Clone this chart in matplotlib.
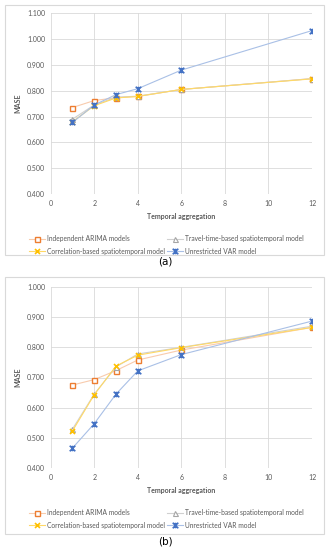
import matplotlib
matplotlib.use("Agg")
import matplotlib.pyplot as plt
from matplotlib.path import Path
from matplotlib.patches import Rectangle
from matplotlib.lines import Line2D

plt.rcParams['font.family'] = ['Lato', 'DejaVu Sans']

x_vals = [1, 2, 3, 4, 6, 12]
series_names = ["Independent ARIMA models", "Travel-time-based spatiotemporal model",
                "Correlation-based spatiotemporal model", "Unrestricted VAR model"]

# Panel (a)
a_arima = [0.735, 0.762, 0.773, 0.778, 0.805, 0.847]
a_travel = [0.690, 0.745, 0.775, 0.779, 0.805, 0.847]
a_corr = [0.680, 0.742, 0.772, 0.778, 0.805, 0.846]
a_var = [0.677, 0.745, 0.785, 0.808, 0.880, 1.033]

# Panel (b)
b_arima = [0.675, 0.693, 0.723, 0.758, 0.791, 0.866]
b_travel = [0.529, 0.645, 0.735, 0.778, 0.800, 0.870]
b_corr = [0.523, 0.643, 0.738, 0.774, 0.799, 0.866]
b_var = [0.466, 0.547, 0.645, 0.722, 0.776, 0.887]

a_yticks = [0.4, 0.5, 0.6, 0.7, 0.8, 0.9, 1.0, 1.1]
b_yticks = [0.4, 0.5, 0.6, 0.7, 0.8, 0.9, 1.0]
xticks = [0, 2, 4, 6, 8, 10, 12]

star = Path([(-1, -1), (1, 1), (-1, 1), (1, -1), (0, -1), (0, 1)],
            [Path.MOVETO, Path.LINETO, Path.MOVETO, Path.LINETO, Path.MOVETO, Path.LINETO])

styles = [
    dict(color='#F8CBAD', marker='s', mfc='white', mec='#ED7D31', ms=3.6, mew=1.0),
    dict(color='#D0D0D0', marker='^', mfc='white', mec='#A5A5A5', ms=3.6, mew=0.8),
    dict(color='#FFD966', marker='x', mfc='none', mec='#FFC000', ms=3.6, mew=1.2),
    dict(color='#A9C0E6', marker=star, mfc='none', mec='#4472C4', ms=4, mew=1.2),
]

W, H = 331, 550
fig = plt.figure(figsize=(W / 100, H / 100), dpi=100)

def fx(px):
    return px / W

def fy(py):
    return 1 - py / H

def panel(top_px, bot_px, box_top, box_bot, data, yticks, ylim, label, label_y, leg_y):
    fig.patches.append(Rectangle((fx(5), fy(box_bot)), fx(319), (box_bot - box_top) / H,
                                 transform=fig.transFigure, fill=False,
                                 edgecolor='#D9D9D9', lw=0.8))
    ax = fig.add_axes([fx(50.7), fy(bot_px), fx(312 - 50.7), (bot_px - top_px) / H])
    for vals, st in zip(data, styles):
        ax.plot(x_vals, vals, lw=0.8, **st)
    ax.set_xlim(0, 12)
    ax.set_ylim(*ylim)
    ax.set_xticks(xticks)
    ax.set_yticks(yticks)
    ax.set_yticklabels([f"{v:.3f}" for v in yticks])
    ax.grid(True, color='#D9D9D9', lw=0.6)
    ax.set_axisbelow(True)
    for s in ax.spines.values():
        s.set_visible(False)
    ax.tick_params(length=0, labelsize=5, colors='#595959', pad=4)
    ax.set_ylabel("MASE", fontsize=5, fontweight='bold', color='#595959', labelpad=4)
    ax.set_xlabel("Temporal aggregation", fontsize=5, fontweight='bold', color='#595959', labelpad=5)
    handles = [Line2D([], [], lw=0.8, **st) for st in styles]
    order = [0, 2, 1, 3]
    fig.legend([handles[i] for i in order], [series_names[i] for i in order],
               ncol=2, loc='upper left', bbox_to_anchor=(fx(26), fy(leg_y)),
               frameon=False, fontsize=4.8, labelcolor='#595959', borderpad=0,
               handlelength=2.4, handletextpad=0.3, columnspacing=0.3,
               labelspacing=0.8)
    fig.text(fx(165), fy(label_y), label, ha='center', va='center', fontsize=7.5,
             family='DejaVu Sans')
    return ax

panel(13.3, 194, 5, 255, [a_arima, a_travel, a_corr, a_var], a_yticks, (0.4, 1.1),
      "(a)", 261, 232)
panel(287, 468, 277, 534, [b_arima, b_travel, b_corr, b_var], b_yticks, (0.4, 1.0),
      "(b)", 542, 506)

fig.savefig("out.png", dpi=100)
